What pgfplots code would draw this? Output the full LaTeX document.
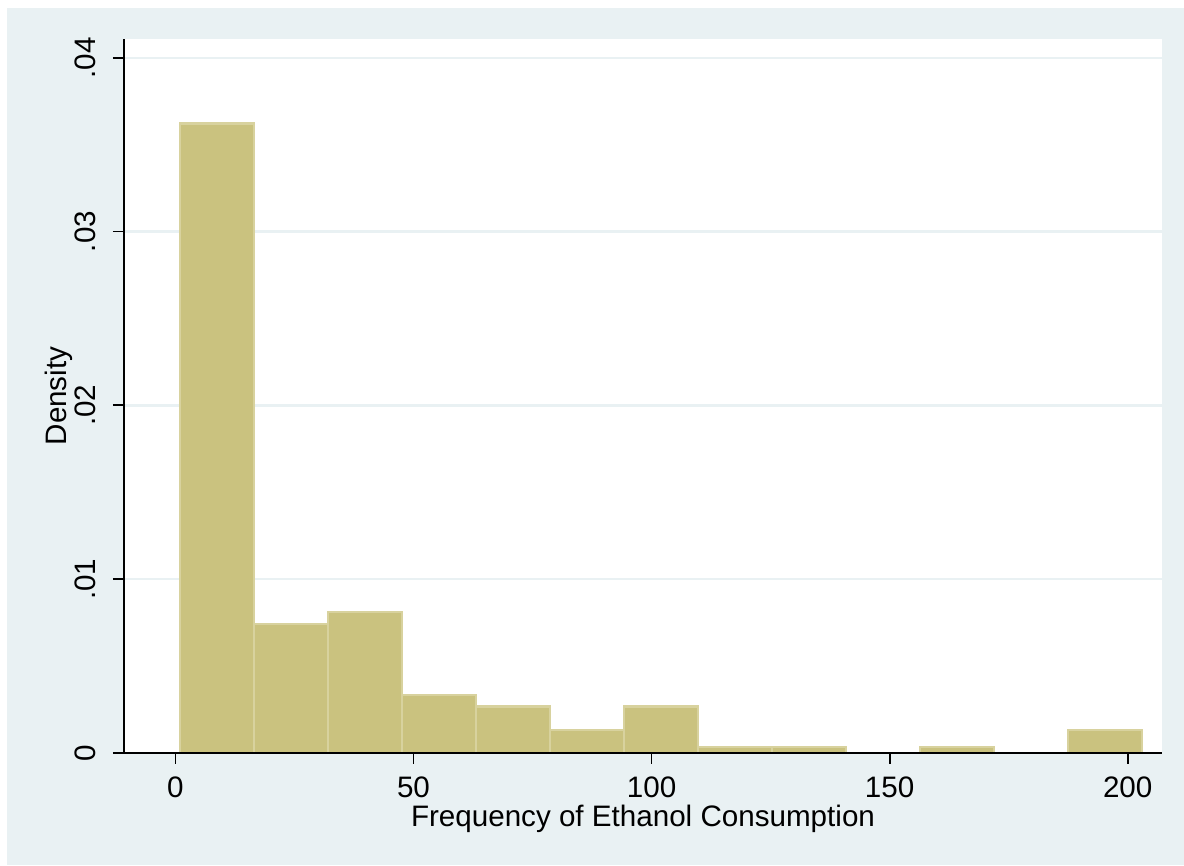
\documentclass[border=0pt]{standalone}
\usepackage{pgfplots}
\pgfplotsset{compat=1.18}
\usepackage{fontspec}
\setmainfont{Liberation Sans}
\definecolor{bgblue}{RGB}{233,241,243}
\definecolor{gridc}{RGB}{233,241,243}
\definecolor{barfill}{RGB}{202,194,127}
\definecolor{baredge}{RGB}{216,210,158}
\pgfplotstableread{
x y
1.00 0.03622
16.54 0.00740
32.08 0.00809
47.62 0.00332
63.15 0.00267
78.69 0.00131
94.23 0.00267
109.77 0.00033
125.31 0.00033
140.85 0.00033
}\histA
\pgfplotstableread{
x y
156.38 0.00033
171.92 0.00033
}\histB
\pgfplotstableread{
x y
187.46 0.00131
203.00 0.00131
}\histC
\begin{document}
\begin{tikzpicture}[x=0.5pt,y=0.5pt]
\fill[white] (0,0) rectangle (1184,866);
\fill[bgblue] (7,1) rectangle (1184,858);
\begin{axis}[
  at={(62pt,56.5pt)}, anchor=south west,
  scale only axis, width=519pt, height=357pt,
  xmin=-10.8, xmax=207.2, ymin=0, ymax=0.04108,
  axis background/.style={fill=white},
  axis lines*=left,
  axis line style={black, line width=0.9pt},
  tick style={black, line width=0.9pt},
  tick align=outside, major tick length=5.5pt,
  xtick={0,50,100,150,200},
  ytick={0,0.01,0.02,0.03,0.04},
  yticklabels={0,.01,.02,.03,.04},
  scaled y ticks=false,
  /pgf/number format/assume math mode=true,
  ymajorgrids, grid style={gridc, line width=1.2pt},
  font=\fontsize{14.8pt}{17pt}\selectfont,
  xticklabel style={anchor=base, yshift=-22.5pt+5.5pt},
  yticklabel style={rotate=90, anchor=base, yshift=8.5pt},
  xlabel={Frequency of Ethanol Consumption},
  ylabel={Density},
  xlabel style={at={(axis description cs:0.5,0)}, anchor=base, yshift=-37pt},
  ylabel style={at={(axis description cs:0,0.5)}, anchor=base, yshift=28.5pt},
]
\addplot[ybar interval, fill=barfill, draw=baredge, line width=1.1pt] table[x=x,y=y] {\histA};
\addplot[ybar interval, fill=barfill, draw=baredge, line width=1.1pt] table[x=x,y=y] {\histB};
\addplot[ybar interval, fill=barfill, draw=baredge, line width=1.1pt] table[x=x,y=y] {\histC};
\draw[black, line width=0.9pt] (axis description cs:0,0) -- (axis description cs:1,0);
\end{axis}
\end{tikzpicture}
\end{document}
